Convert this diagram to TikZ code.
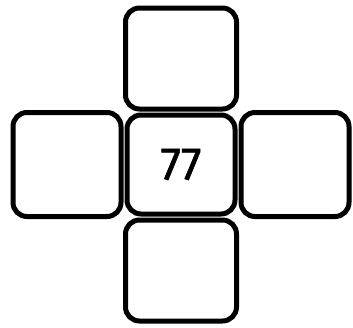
\documentclass[tikz,border=0pt]{standalone}
\usepackage{fontspec}
\setmainfont{Fira Sans}
\usetikzlibrary{positioning}
\tikzset{
  every picture/.style={line width=5pt},
  cell/.style={draw=black, fill=white, rounded corners=14pt, minimum width=#1, inner sep=0pt},
  cell/.default=108pt,
  num/.style={font=\fontsize{46}{46}\selectfont\addfontfeature{FakeBold=1.2}},
}

\begin{document}
\begin{tikzpicture}[node distance=1pt]
  \useasboundingbox (0,0) rectangle (353pt,-327pt);
  \node[cell=108pt, minimum height=99pt, num] (mid) at (181pt,-164.5pt) {77};
  \node[cell=111pt, minimum height=101pt, above=of mid] (up) {};
  \node[cell=111pt, minimum height=101pt, below=of mid] (down) {};
  \node[cell, minimum height=104pt, left=of mid] (west) {};
  \node[cell, minimum height=104pt, right=of mid] (east) {};
\end{tikzpicture}
\end{document}
